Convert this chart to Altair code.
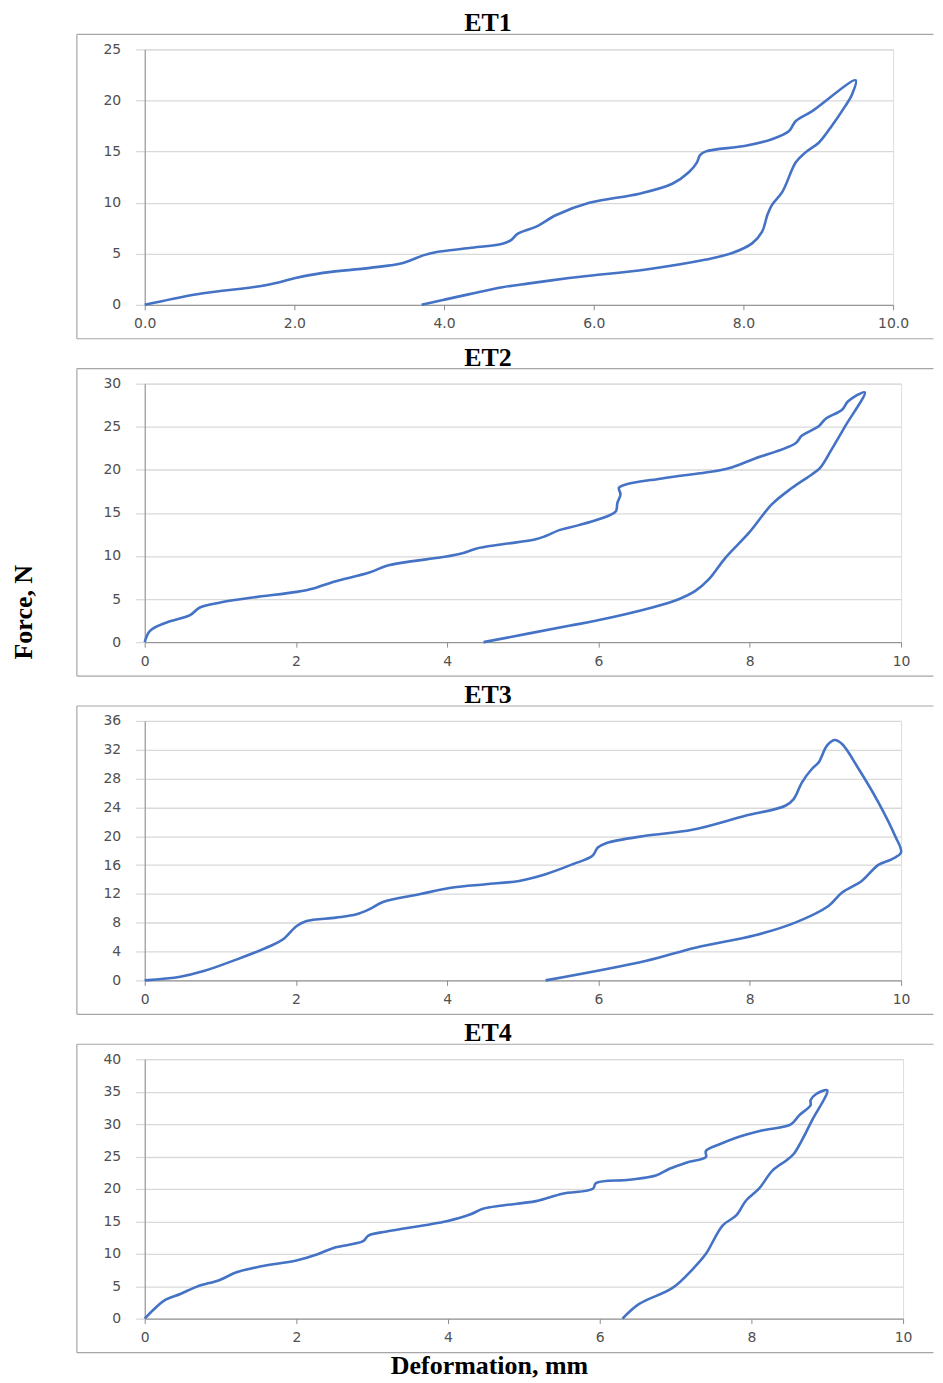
import altair as alt
import pandas as pd

# ---------------- data ----------------
ET1_x = [0, 0.70, 1.63, 2.03, 2.38, 3.01, 3.45, 3.72, 3.90, 4.34, 4.78, 4.90, 4.98, 5.23,
         5.50, 5.94, 6.61, 7.05, 7.27, 7.38, 7.42, 7.50, 8.03, 8.38, 8.61, 8.70, 8.92, 9.50,
         9.45, 9.36, 9.18, 9.01, 8.83, 8.70, 8.52, 8.38, 8.32, 8.25, 8.12, 7.85, 7.50, 6.70,
         5.94, 5.67, 5.14, 4.78, 4.34, 4.00, 3.70]
ET1_F = [0, 1.04, 1.94, 2.65, 3.13, 3.62, 4.10, 4.84, 5.17, 5.56, 5.98, 6.36, 6.94, 7.65,
         8.79, 9.98, 10.88, 11.85, 12.98, 13.95, 14.66, 15.02, 15.57, 16.21, 17.02, 17.99, 18.96, 21.97,
         20.57, 19.45, 17.51, 15.89, 14.92, 13.95, 11.05, 9.76, 8.79, 7.17, 6.04, 5.07, 4.43, 3.46,
         2.85, 2.62, 2.10, 1.72, 1.05, 0.50, 0]

ET2_x = [0, 0.07, 0.29, 0.60, 0.73, 1.00, 1.43, 2.01, 2.23, 2.49, 2.97, 3.19, 3.41, 3.99,
         4.20, 4.38, 4.73, 5.17, 5.30, 5.48, 5.74, 6.14, 6.23, 6.25, 6.29, 6.27, 6.36, 6.84,
         7.59, 7.77, 8.07, 8.60, 8.69, 8.91, 9.00, 9.22, 9.30, 9.52,
         9.26, 9.08, 8.93, 8.82, 8.56, 8.29, 7.99, 7.68, 7.46, 7.28, 7.06, 6.71, 5.96, 5.61, 4.48]
ET2_F = [0, 1.31, 2.28, 3.13, 4.02, 4.60, 5.18, 5.83, 6.22, 6.99, 8.07, 8.84, 9.23, 9.93,
         10.31, 10.85, 11.35, 11.93, 12.31, 13.00, 13.58, 14.70, 15.20, 16.17, 17.14, 17.91, 18.30, 19.00,
         19.92, 20.31, 21.31, 23.05, 23.97, 25.05, 25.90, 26.98, 27.95, 29.00,
         25.05, 22.35, 20.23, 19.46, 17.91, 15.98, 12.70, 9.81, 7.30, 5.94, 4.98, 4.02, 2.47, 1.89, 0]

ET3_x = [0, 0.47, 0.78, 1.22, 1.66, 1.83, 2.01, 2.14, 2.53, 2.80, 2.97, 3.15, 3.63, 4.07,
         4.51, 4.95, 5.30, 5.66, 5.92, 5.99, 6.10, 6.62, 7.24, 7.94, 8.47, 8.58, 8.69, 8.82,
         8.91, 9.02, 9.12, 9.22, 9.44, 9.70, 9.92, 10.0, 9.88, 9.70, 9.48, 9.22, 9.04, 8.60,
         8.07, 7.28, 6.62, 5.30]
ET3_F = [0, 0.51, 1.29, 2.92, 4.77, 5.70, 7.55, 8.24, 8.71, 9.17, 9.87, 10.88, 11.95, 12.88,
         13.34, 13.80, 14.73, 16.12, 17.28, 18.44, 19.04, 20.06, 20.90, 22.84, 24.23, 25.16, 27.48, 29.33,
         30.25, 32.57, 33.36, 32.80, 29.33, 24.70, 20.06, 17.75, 16.82, 16.03, 13.80, 12.19, 10.33, 8.02,
         6.26, 4.54, 2.69, 0]

ET4_x = [0, 0.27, 0.47, 0.69, 0.99, 1.21, 1.52, 2.00, 2.27, 2.49, 2.88, 2.95, 3.19, 3.98,
         4.29, 4.46, 4.72, 5.16, 5.51, 5.91, 5.95, 6.39, 6.74, 6.92, 7.14, 7.40, 7.40, 7.58,
         7.80, 8.15, 8.52, 8.63, 8.78, 8.78, 8.85, 9.00,
         8.80, 8.56, 8.46, 8.28, 8.10, 7.93, 7.80, 7.62, 7.40, 7.23, 6.96, 6.52, 6.30]
ET4_F = [0, 2.88, 3.81, 4.94, 5.97, 7.15, 8.03, 8.96, 9.88, 10.91, 11.94, 12.82, 13.44, 15.03,
         16.06, 16.94, 17.45, 18.12, 19.26, 20.03, 20.90, 21.42, 22.08, 23.12, 24.05, 24.92, 25.85, 26.88,
         27.90, 29.03, 29.96, 31.35, 32.90, 33.67, 34.60, 35.20,
         30.58, 25.43, 24.40, 22.86, 20.03, 18.22, 15.91, 14.36, 9.99, 7.68, 4.74, 2.27, 0]

X_TICKS = [0, 2, 4, 6, 8, 10]
PANEL_TITLES = ["ET1", "ET2", "ET3", "ET4"]
Y_MAX = [25, 30, 36, 40]
Y_STEP = [5, 5, 4, 5]
X_FORMAT = [".1f", "d", "d", "d"]
X_LABEL = "Deformation, mm"
Y_LABEL = "Force, N"

# ---------------- styling ----------------
BLUE = "#4472C4"
FRAME = "#a6a6a6"
GRID = "#d9d9d9"
AXIS = "#8c8c8c"
LABEL = "#505050"
SERIF = "Liberation Serif"
SANS = "DejaVu Sans"
PLOT_LEFT_PAGE = 144.5
FRAME_LEFT = 76.5 - PLOT_LEFT_PAGE
FRAME_RIGHT = 935 - PLOT_LEFT_PAGE
TITLE_X = 488.5 - PLOT_LEFT_PAGE

WIDTHS = [750, 758, 758, 760]
HEIGHTS = [256, 259, 260, 260]
PANEL_TOPS = [49, 384, 721, 1059]

one = pd.DataFrame({"a": [0]})


def panel(k, xs, fs):
    W, H = WIDTHS[k], HEIGHTS[k]
    df = pd.DataFrame({"x": xs, "F": fs, "i": list(range(len(xs)))})
    yvals = list(range(0, Y_MAX[k] + 1, Y_STEP[k]))
    line = alt.Chart(df).mark_line(
        color=BLUE, strokeWidth=2.6, interpolate="catmull-rom"
    ).encode(
        x=alt.X("x:Q", scale=alt.Scale(domain=[0, 10], nice=False),
                axis=alt.Axis(values=X_TICKS, format=X_FORMAT[k], grid=False,
                              domainColor=AXIS, domainWidth=1, tickColor=AXIS,
                              tickSize=5, tickWidth=1, labelFont=SANS,
                              labelFontSize=14, labelColor=LABEL, labelPadding=7,
                              labelFlush=False, labelOverlap=False, title=None)),
        y=alt.Y("F:Q", scale=alt.Scale(domain=[0, Y_MAX[k]], nice=False),
                axis=alt.Axis(values=yvals, grid=True, gridColor=GRID, gridWidth=1.3,
                              domainColor=AXIS, domainWidth=1, tickColor=GRID,
                              tickSize=9, tickWidth=1.3, labelFont=SANS,
                              labelFontSize=14, labelColor=LABEL, labelPadding=15,
                              labelOverlap=False, title=None)),
        order=alt.Order("i:Q"),
    )
    top = alt.Chart(one).mark_rule(color=FRAME, strokeWidth=1.2).encode(
        x=alt.value(FRAME_LEFT), x2=alt.value(FRAME_RIGHT), y=alt.value(-15))
    bottom = alt.Chart(one).mark_rule(color=FRAME, strokeWidth=1.2).encode(
        x=alt.value(FRAME_LEFT), x2=alt.value(FRAME_RIGHT), y=alt.value(H + 34))
    left = alt.Chart(one).mark_rule(color=FRAME, strokeWidth=1.2).encode(
        x=alt.value(FRAME_LEFT), y=alt.value(-15), y2=alt.value(H + 34))
    title = alt.Chart(one).mark_text(
        font=SERIF, fontWeight="bold", fontSize=26, align="center",
        baseline="alphabetic", color="black"
    ).encode(x=alt.value(TITLE_X), y=alt.value(-18), text=alt.value(PANEL_TITLES[k]))
    layers = [top, bottom, left, title, line]
    if k == 1:
        ylab = alt.Chart(one).mark_text(
            font=SERIF, fontWeight="bold", fontSize=26, align="center",
            baseline="middle", angle=270, color="black"
        ).encode(x=alt.value(24 - PLOT_LEFT_PAGE), y=alt.value(613 - PANEL_TOPS[1]),
                 text=alt.value(Y_LABEL))
        layers.append(ylab)
    if k == 3:
        xlab = alt.Chart(one).mark_text(
            font=SERIF, fontWeight="bold", fontSize=26, align="center",
            baseline="alphabetic", color="black"
        ).encode(x=alt.value(490 - PLOT_LEFT_PAGE), y=alt.value(H + 55),
                 text=alt.value(X_LABEL))
        layers.append(xlab)
    return alt.layer(*layers).properties(width=W, height=H)


chart = alt.vconcat(
    panel(0, ET1_x, ET1_F),
    panel(1, ET2_x, ET2_F),
    panel(2, ET3_x, ET3_F),
    panel(3, ET4_x, ET4_F),
    spacing=3,
).properties(
    padding={"left": 3, "top": 0, "right": 0, "bottom": 0}
).configure_view(strokeWidth=0).configure(background="white")

chart.save("out.html", embed_options={"renderer": "svg", "actions": False})
